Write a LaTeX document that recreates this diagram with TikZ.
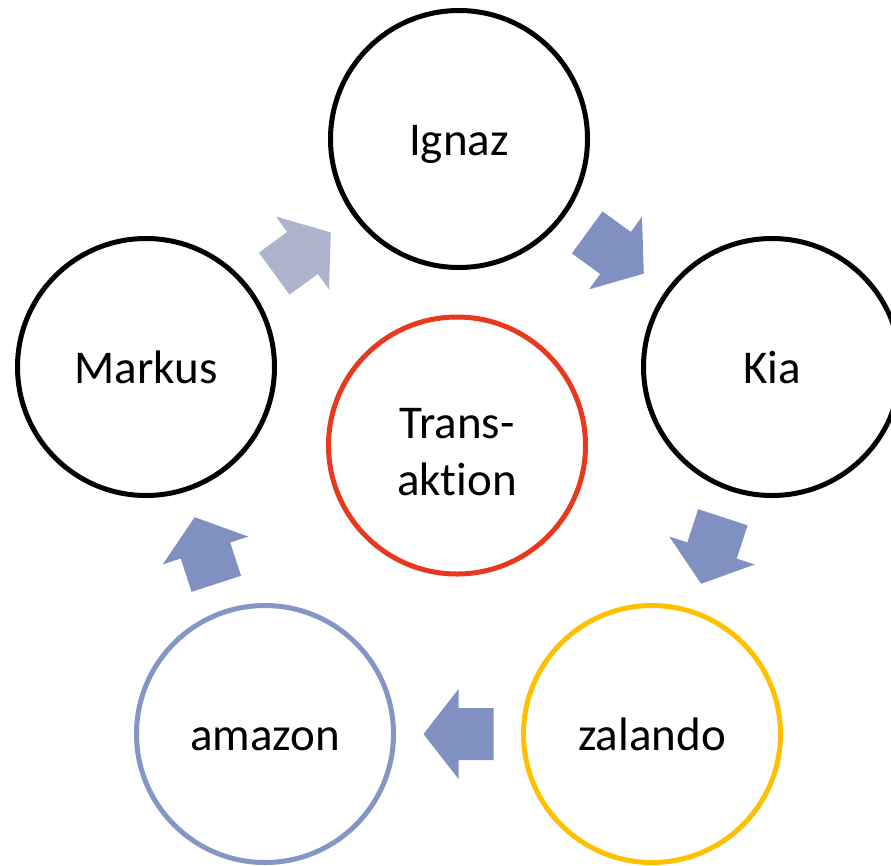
\documentclass[tikz,border=0pt]{standalone}
\usepackage{fontspec}
\setmainfont[Ligatures=NoCommon]{Carlito}
\usetikzlibrary{calc}
\definecolor{cred}{RGB}{232,56,30}
\definecolor{cyellow}{RGB}{255,192,0}
\definecolor{cblue}{RGB}{132,150,198}
\definecolor{carrow}{RGB}{128,145,193}
\definecolor{carrowlight}{RGB}{173,179,205}
\tikzset{
  stage/.style={circle, draw=black, line width=5pt, minimum size=257pt,
    inner sep=0pt, fill=white, font=\fontsize{47}{57}\selectfont,
    text height=44pt, text depth=12pt},
  cyc arrow/.pic={\path[pic actions] (-35,-26) -- (0,-26) -- (0,-45) -- (35,0)
    -- (0,45) -- (0,26) -- (-35,26) -- cycle;}
}
\newcommand\cyclearrow[3]{%
  \path let \p1=($(#2)-(#1)$), \n1={atan2(\y1,\x1)} in
    pic[fill=#3, rotate=\n1] at ($(#1)!0.5!(#2)$) {cyc arrow};}
\begin{document}
\begin{tikzpicture}[x=1pt,y=-1pt]
  \useasboundingbox (0,0) rectangle (891,865);
  \clip (0,0) rectangle (891,865);
  \fill[white] (0,0) rectangle (891,865);
  \node[stage] (ignaz) at (459,139) {Ignaz};
  \node[stage] (kia) at (772,367) {Kia};
  \node[stage, draw=cyellow] (zal) at (652,734) {zalando};
  \node[stage, draw=cblue] (ama) at (265,734) {amazon};
  \node[stage] (mar) at (146,367) {Markus};
  \node[stage, draw=cred, align=center, text height=, text depth=] (tra) at (457,445.5) {\rule{0pt}{42.5pt}Trans-\\aktion};
  \cyclearrow{mar}{ignaz}{carrowlight}
  \cyclearrow{ignaz}{kia}{carrow}
  \cyclearrow{kia}{zal}{carrow}
  \cyclearrow{zal}{ama}{carrow}
  \cyclearrow{ama}{mar}{carrow}
\end{tikzpicture}
\end{document}
